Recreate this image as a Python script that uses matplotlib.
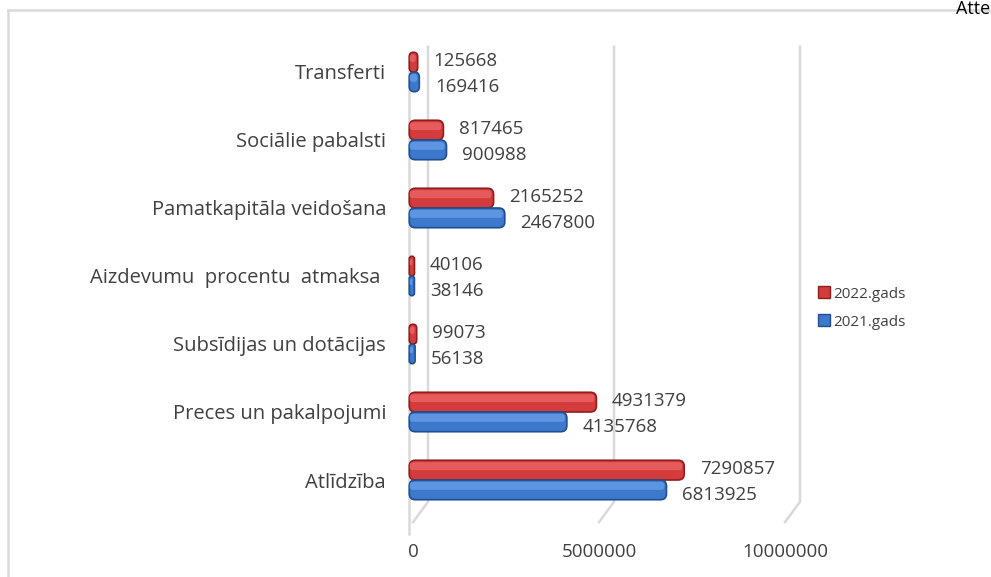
import matplotlib
matplotlib.use("Agg")
import matplotlib.pyplot as plt
from matplotlib.patches import Patch, FancyBboxPatch
from matplotlib.lines import Line2D

# dati
kategorijas = ["Atlīdzība", "Preces un pakalpojumi", "Subsīdijas un dotācijas",
               "Aizdevumu  procentu  atmaksa ", "Pamatkapitāla veidošana",
               "Sociālie pabalsti", "Transferti"]
gads_2021 = [6813925, 4135768, 56138, 38146, 2467800, 900988, 169416]
gads_2022 = [7290857, 4931379, 99073, 40106, 2165252, 817465, 125668]
x_ticks = [0, 5000000, 10000000]
x_labels = ["0", "5000000", "10000000"]

plt.rcParams['font.family'] = ['Open Sans', 'DejaVu Sans']
teksts = '#404040'
grid_c = '#D9D9D9'
sarkans, sarkans_mala, sarkans_gaiss = '#D43B3B', '#8E1E1E', '#E65C5C'
zils, zils_mala, zils_gaiss = '#3C78CC', '#1F4F8F', '#5E95E0'

fig = plt.figure(figsize=(9.91, 5.77), dpi=100)

# ramis ap diagrammu
fig.add_artist(Line2D([8/991, 1], [1-10/577, 1-10/577], color=grid_c, lw=1.8))
fig.add_artist(Line2D([8/991, 8/991], [0, 1-10/577], color=grid_c, lw=1.8))
fig.text(990/991, 1.0, "Atte", fontsize=13, color='black', va='top', ha='right')

# asis: 0 -> 413px, 37.2px uz 1M
px_per = 37.2e-6
x0_px = 413
xmin, xmax = -0.35e6, 10.5e6
left_px = x0_px + xmin*px_per
right_px = x0_px + xmax*px_per
ymin, ymax = -0.88, 6.62
top_px, bot_px = 480 - ymax*68, 480 - ymin*68
ax = fig.add_axes([left_px/991, 1-bot_px/577, (right_px-left_px)/991, (bot_px-top_px)/577])
ax.set_xlim(xmin, xmax)
ax.set_ylim(ymin, ymax)
for s in ax.spines.values():
    s.set_visible(False)

# "3D" režģa līnijas
off = 15/37.2*1e6
floor_y, floor_b = -0.32, -0.62
for v in x_ticks:
    ax.plot([v+off, v+off, v], [ymax-0.25, floor_y, floor_b], color=grid_c, lw=1.8, zorder=0,
            solid_joinstyle='miter')
ax.plot([-0.12e6, -0.12e6], [ymax-0.4, ymin+0.08], color=grid_c, lw=1.8, zorder=0)

# noapaļoti stabiņi
x_px = 1/37.2e-6   # datu vienības uz pikseli (x)
y_px = 1/68        # (y)
asp = y_px/x_px
start = -0.1e6


def stabins(yc, val, h, c, mala, gaiss):
    w = val - start
    r = min(6*x_px, w/2)
    ax.add_patch(FancyBboxPatch((start, yc-h/2), w, h,
                                boxstyle=f"round,pad=0,rounding_size={r}",
                                mutation_aspect=asp, facecolor=c, edgecolor=mala,
                                lw=1.2, zorder=3))
    h2 = h*0.4
    r2 = min(3*x_px, w/2)
    ax.add_patch(FancyBboxPatch((start + 0.5*x_px, yc), max(w - 2.5*x_px, w*0.5), h2,
                                boxstyle=f"round,pad=0,rounding_size={r2}",
                                mutation_aspect=asp, facecolor=gaiss, lw=0, zorder=4))


y = list(range(len(kategorijas)))
h = 0.29
for i in y:
    stabins(i+h/2, gads_2022[i], h, sarkans, sarkans_mala, sarkans_gaiss)
    stabins(i-h/2, gads_2021[i], h, zils, zils_mala, zils_gaiss)
    ax.text(gads_2022[i] + 0.42e6, i+h/2+0.02, str(gads_2022[i]), fontsize=13.5, color=teksts,
            va='center', ha='left')
    ax.text(gads_2021[i] + 0.42e6, i-h/2-0.08, str(gads_2021[i]), fontsize=13.5, color=teksts,
            va='center', ha='left')

ax.set_yticks(y)
ax.set_yticklabels(kategorijas, fontsize=14.5, color=teksts)
ax.set_xticks(x_ticks)
ax.set_xticklabels(x_labels, fontsize=13.5, color=teksts)
ax.tick_params(axis='y', length=0, pad=10)
ax.tick_params(axis='x', length=0, pad=2)

handles = [Patch(facecolor=sarkans, edgecolor=sarkans_mala, label='2022.gads'),
           Patch(facecolor=zils, edgecolor=zils_mala, label='2021.gads')]
fig.legend(handles=handles, loc='center left', bbox_to_anchor=(804/991, 1-308/577),
           frameon=False, fontsize=11, handlelength=0.8, handleheight=0.8,
           handletextpad=0.2, labelspacing=0.85, labelcolor=teksts)

fig.savefig("out.png", dpi=100)
